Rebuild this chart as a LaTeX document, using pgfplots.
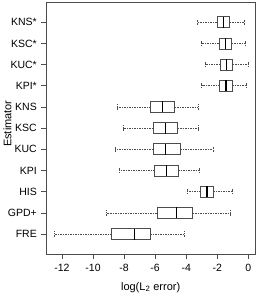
\documentclass[border=0pt]{standalone}
\usepackage{fontspec}
\setmainfont{Liberation Sans}
\usepackage{pgfplots}
\pgfplotsset{compat=1.18}
\usepgfplotslibrary{statistics}
\begin{document}
\begin{tikzpicture}
\begin{axis}[name=ax, scale only axis, width=208.7pt, height=251.7pt,
  xmin=-13.01, xmax=0.43, ymin=0.06, ymax=11.94,
  xtick={-12,-10,-8,-6,-4,-2,0},
  xticklabels={-12,-10,-8,-6,-4,-2,0},
  ytick={1,2,3,4,5,6,7,8,9,10,11},
  yticklabels={FRE,GPD+,HIS,KPI,KUC,KSC,KNS,KPI*,KUC*,KSC*,KNS*},
  tick align=outside, xtick pos=bottom, ytick pos=left, major tick length=5pt,
  axis line style={gray!60!black, line width=0.7pt},
  every tick/.style={gray!60!black, line width=0.7pt},
  xticklabel style={font=\fontsize{10.5}{12}\selectfont, yshift=-2pt},
  yticklabel style={font=\fontsize{10.5}{12}\selectfont, xshift=-1pt},
  ylabel={Estimator}, xlabel={log(L\textsubscript{2} error)},
  ylabel style={font=\fontsize{11}{13}\selectfont, at={(axis description cs:-0.186,0.518)}, anchor=center},
  xlabel style={font=\fontsize{11}{13}\selectfont, at={(axis description cs:0.5,-0.133)}, anchor=center},
  boxplot/draw direction=x,
  boxplot/box extend=0.52,
  boxplot/whisker extend=0.25,
  boxplot/every box/.style={draw=gray!60!black, line width=0.7pt},
  boxplot/every whisker/.style={draw=gray!60!black, dash pattern=on 1.5pt off 1pt, line width=0.55pt},
  boxplot/every median/.style={draw=black, line width=1.2pt},
]
% FRE
\addplot[boxplot prepared={lower whisker=-12.49, lower quartile=-8.79, median=-7.33, upper quartile=-6.30, upper whisker=-4.11, draw position=1}] coordinates {};
% GPD+
\addplot[boxplot prepared={lower whisker=-9.12, lower quartile=-5.89, median=-4.65, upper quartile=-3.59, upper whisker=-1.14, draw position=2}] coordinates {};
% HIS
\addplot[boxplot prepared={lower whisker=-3.94, lower quartile=-3.08, median=-2.66, upper quartile=-2.26, upper whisker=-1.05, draw position=3}] coordinates {};
% KPI
\addplot[boxplot prepared={lower whisker=-8.30, lower quartile=-6.04, median=-5.27, upper quartile=-4.52, upper whisker=-3.14, draw position=4}] coordinates {};
% KUC
\addplot[boxplot prepared={lower whisker=-8.60, lower quartile=-6.11, median=-5.31, upper quartile=-4.37, upper whisker=-2.28, draw position=5}] coordinates {};
% KSC
\addplot[boxplot prepared={lower whisker=-8.08, lower quartile=-6.11, median=-5.33, upper quartile=-4.56, upper whisker=-3.20, draw position=6}] coordinates {};
% KNS
\addplot[boxplot prepared={lower whisker=-8.47, lower quartile=-6.28, median=-5.55, upper quartile=-4.75, upper whisker=-3.24, draw position=7}] coordinates {};
% KPI*
\addplot[boxplot prepared={lower whisker=-3.01, lower quartile=-1.85, median=-1.44, upper quartile=-1.05, upper whisker=-0.11, draw position=8}] coordinates {};
% KUC*
\addplot[boxplot prepared={lower whisker=-2.80, lower quartile=-1.81, median=-1.42, upper quartile=-1.01, upper whisker=0.02, draw position=9}] coordinates {};
% KSC*
\addplot[boxplot prepared={lower whisker=-3.05, lower quartile=-1.89, median=-1.46, upper quartile=-1.07, upper whisker=-0.17, draw position=10}] coordinates {};
% KNS*
\addplot[boxplot prepared={lower whisker=-3.27, lower quartile=-2.02, median=-1.59, upper quartile=-1.20, upper whisker=-0.26, draw position=11}] coordinates {};
\end{axis}
\pgfresetboundingbox
\path ([shift={(-46.3pt,-47pt)}]ax.south west) rectangle ([shift={(3pt,2.3pt)}]ax.north east);
\end{tikzpicture}
\end{document}
